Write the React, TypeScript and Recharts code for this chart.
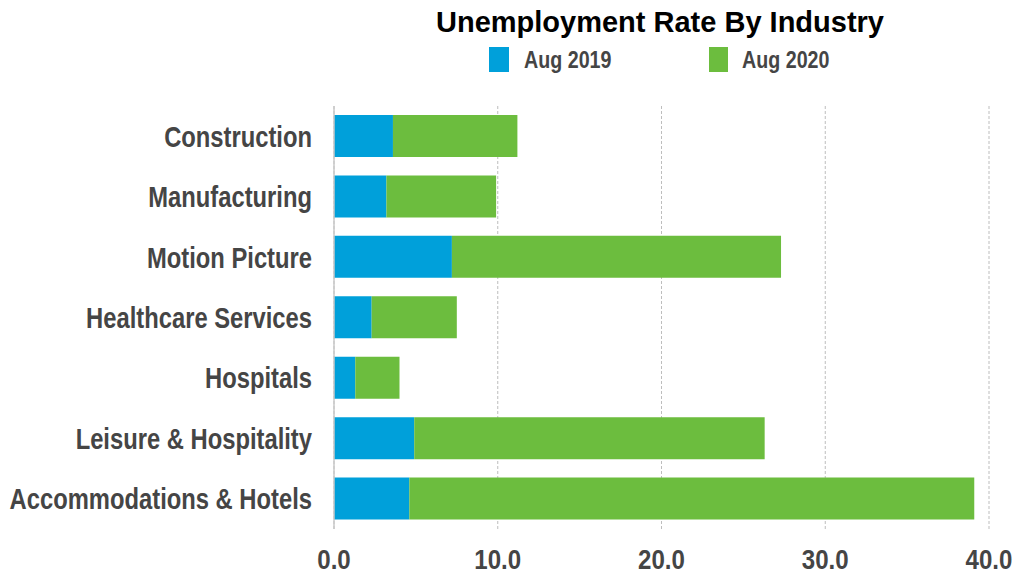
import React from "react";
import { BarChart, Bar, XAxis, YAxis, CartesianGrid } from "recharts";

const categories = [
  "Construction",
  "Manufacturing",
  "Motion Picture",
  "Healthcare Services",
  "Hospitals",
  "Leisure & Hospitality",
  "Accommodations & Hotels",
];
const aug2019 = [3.6, 3.2, 7.2, 2.3, 1.3, 4.9, 4.6];
const aug2020 = [7.6, 6.7, 20.1, 5.2, 2.7, 21.4, 34.5];
const xTicks = [0, 10, 20, 30, 40];
const seriesNames = ["Aug 2019", "Aug 2020"];
const title = "Unemployment Rate By Industry";

const BLUE = "#00A0DA";
const GREEN = "#6CBD3E";
const LABEL = "#454545";
const FONT = "'Liberation Sans', Arial, sans-serif";
const SQ = 0.82;

const data = categories.map((c, i) => ({ name: c, a: aug2019[i], b: aug2020[i] }));

const YTick = (props: any) => {
  const { x, y, payload } = props;
  return (
    <g transform={`translate(${x},${y}) scale(${SQ},1)`}>
      <text
        x={0}
        y={0}
        dy="0.36em"
        textAnchor="end"
        fill={LABEL}
        fontSize={29}
        fontWeight="bold"
        fontFamily={FONT}
      >
        {payload.value}
      </text>
    </g>
  );
};

const XTick = (props: any) => {
  const { x, y, payload } = props;
  return (
    <g transform={`translate(${x},${y}) scale(0.86,1)`}>
      <text
        x={0}
        y={0}
        dy="0.72em"
        textAnchor="middle"
        fill={LABEL}
        fontSize={28}
        fontWeight="bold"
        fontFamily={FONT}
      >
        {Number(payload.value).toFixed(1)}
      </text>
    </g>
  );
};

export default function App() {
  return (
    <div style={{ position: "absolute", left: 0, top: 0, width: 1015, height: 575, background: "#fff" }}>
      <BarChart
        width={1015}
        height={575}
        data={data}
        layout="vertical"
        margin={{ top: 106, right: 26, bottom: 0, left: 0 }}
      >
        <CartesianGrid horizontal={false} stroke="#bdbdbd" strokeDasharray="3 2" />
        <XAxis
          type="number"
          domain={[0, 40]}
          ticks={xTicks}
          axisLine={false}
          tickLine={false}
          tickSize={0}
          tickMargin={20}
          height={46}
          tick={<XTick />}
        />
        <YAxis
          type="category"
          dataKey="name"
          width={334}
          axisLine={{ stroke: "#c8c8c8", strokeWidth: 1.5 }}
          tickLine={false}
          tickSize={0}
          tickMargin={22}
          tick={<YTick />}
        />
        <Bar dataKey="a" stackId="s" fill={BLUE} barSize={42} isAnimationActive={false} />
        <Bar dataKey="b" stackId="s" fill={GREEN} barSize={42} isAnimationActive={false} />
      </BarChart>
      <svg width={1015} height={100} style={{ position: "absolute", left: 0, top: 0 }}>
        <text
          x={660}
          y={32}
          textAnchor="middle"
          fill="#000"
          fontSize={29}
          fontWeight="bold"
          fontFamily={FONT}
        >
          {title}
        </text>
        <rect x={489} y={47} width={20} height={25} fill={BLUE} />
        <g transform={`translate(524,68) scale(${SQ},1)`}>
          <text x={0} y={0} fill={LABEL} fontSize={24} fontWeight="bold" fontFamily={FONT}>
            {seriesNames[0]}
          </text>
        </g>
        <rect x={709} y={47} width={19} height={25} fill={GREEN} />
        <g transform={`translate(742,68) scale(${SQ},1)`}>
          <text x={0} y={0} fill={LABEL} fontSize={24} fontWeight="bold" fontFamily={FONT}>
            {seriesNames[1]}
          </text>
        </g>
      </svg>
    </div>
  );
}
